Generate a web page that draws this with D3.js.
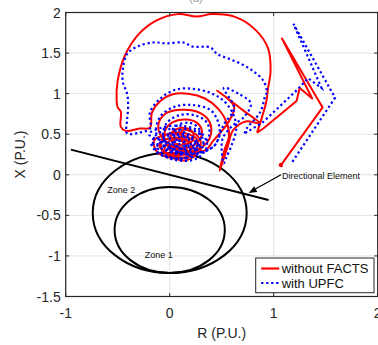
<!DOCTYPE html>
<html><head><meta charset="utf-8">
<script src="https://cdnjs.cloudflare.com/ajax/libs/d3/7.8.5/d3.min.js"></script>
<style>
body{margin:0;background:#fff;}
svg{display:block;font-family:"Liberation Sans",Arial,sans-serif;}
</style></head>
<body>
<svg id="c" width="378" height="345"></svg>
<script>
// ---------- data ----------
const xTicks = [-1, 0, 1, 2];
const yTicks = [-1.5, -1, -0.5, 0, 0.5, 1, 1.5, 2];
const seriesNames = ["without FACTS", "with UPFC"];

// red: without FACTS (R, X) in p.u.
const redTail = [[1.07,0.12],[1.47,0.83],[1.08,1.68],[1.37,0.94],[1.25,1.07],[1.22,0.91],[0.90,0.57],[0.84,0.52]];
const redSwing = [[0.84,0.52],[0.89,0.72],[0.93,0.91],[0.945,1.06],[0.97,1.28],[0.945,1.56],[0.83,1.78],[0.64,1.94],
  [0.41,1.98],[0.26,1.95],[0.08,1.98],[-0.13,1.90],[-0.30,1.73],[-0.43,1.47],[-0.50,1.16],[-0.51,0.91],[-0.50,0.83],
  [-0.47,0.78],[-0.47,0.59],[-0.42,0.54],[-0.29,0.57],[-0.19,0.58],
  [-0.17,0.77],[-0.09,0.91],[0.02,0.99],[0.18,1.0],[0.34,0.94],[0.47,0.81],[0.55,0.64],[0.57,0.47],[0.53,0.32],
  [0.50,0.17],[0.48,0.05],[0.52,0.20],[0.56,0.36],[0.61,0.55],[0.74,0.66],[0.87,0.63],
  [0.70,0.80],[0.455,1.04],[0.62,0.84],[0.56,0.64],[0.42,0.42],
  [0.34,0.30],[0.15,0.30],[-0.045,0.42],[-0.11,0.60],[-0.045,0.75],[0.10,0.80],[0.26,0.78],[0.37,0.68],[0.40,0.54],
  [0.36,0.40],[0.24,0.30],[0.08,0.30],[-0.035,0.40],[-0.045,0.54],[0.03,0.65],[0.17,0.68],[0.28,0.62],[0.31,0.51],
  [0.25,0.38],[0.13,0.33],[0.02,0.41],[0.02,0.52],[0.12,0.58],[0.22,0.53],[0.22,0.42],[0.13,0.37]];
const redCluster = [[0.13,0.37],[0.12,0.55],[0.25,0.50],[0.30,0.38],[0.22,0.24],[0.05,0.22],[-0.08,0.32],[-0.05,0.48],
  [0.10,0.52],[0.26,0.44],[0.24,0.28],[0.08,0.20],[-0.12,0.28],[-0.15,0.42],[0.0,0.50],[0.18,0.46],[0.30,0.32],
  [0.16,0.18],[-0.02,0.24],[-0.10,0.38],[0.04,0.46],[0.20,0.40],[0.18,0.26],[0.02,0.28],[-0.02,0.40],[0.12,0.44],
  [0.22,0.34],[0.10,0.24],[-0.05,0.30],[0.0,0.42],[0.14,0.40],[0.16,0.30],[0.06,0.30],[0.06,0.38],[0.12,0.36]];

// blue: with UPFC
const blueTail = [[1.18,0.16],[1.59,0.95],[1.19,1.86],[1.46,1.07],[1.33,1.19],[1.22,1.04],[0.89,0.64],[0.72,0.51]];
const blueSwing = [[0.72,0.51],[0.74,0.57],[0.87,0.77],[0.92,0.98],[0.935,1.02],[0.90,1.16],[0.80,1.28],[0.68,1.37],
  [0.55,1.44],[0.455,1.49],[0.39,1.57],[0.22,1.58],[0.13,1.63],[-0.03,1.62],[-0.16,1.63],[-0.31,1.58],[-0.41,1.49],
  [-0.45,1.31],[-0.45,1.14],[-0.41,1.0],[-0.40,0.83],[-0.41,0.67],[-0.41,0.51],[-0.29,0.52],[-0.19,0.57],
  [-0.19,0.77],[-0.09,0.94],[0.06,1.05],[0.22,1.06],[0.39,1.01],[0.52,0.91],[0.61,0.75],[0.64,0.57],[0.60,0.38],
  [0.54,0.20],[0.52,0.14],[0.50,0.30],[0.51,0.45],[0.60,0.60],[0.72,0.72],[0.78,0.88],[0.66,1.0],[0.52,1.07],
  [0.62,0.82],[0.52,0.62],[0.43,0.36],
  [0.29,0.27],[0.10,0.26],[-0.06,0.35],[-0.13,0.52],[-0.09,0.72],[0.05,0.84],[0.22,0.86],[0.39,0.80],[0.46,0.67],
  [0.48,0.51],[0.43,0.36],[0.29,0.27],[0.12,0.27],[-0.02,0.36],[-0.065,0.51],[-0.02,0.65],[0.11,0.74],[0.25,0.73],
  [0.36,0.64],[0.38,0.49],[0.31,0.36],[0.18,0.31],[0.05,0.36],[0.0,0.48],[0.06,0.60],[0.19,0.64],[0.28,0.57],
  [0.29,0.43],[0.21,0.35],[0.10,0.37]];
const blueCluster = [[0.10,0.37],[0.04,0.52],[0.20,0.56],[0.32,0.44],[0.28,0.26],[0.10,0.20],[-0.10,0.26],[-0.16,0.44],
  [-0.02,0.56],[0.18,0.50],[0.28,0.36],[0.18,0.22],[0.0,0.22],[-0.12,0.34],[-0.06,0.48],[0.12,0.48],[0.24,0.40],
  [0.20,0.28],[0.04,0.26],[-0.06,0.38],[0.04,0.46],[0.18,0.44],[0.20,0.32],[0.08,0.28],[0.0,0.36],[0.08,0.42],
  [0.16,0.38],[0.12,0.32],[0.06,0.36],[-0.20,0.50],[-0.08,0.58],[0.14,0.60],[0.30,0.52],[0.36,0.36],[0.26,0.20],
  [0.06,0.18],[-0.14,0.30],[-0.18,0.40],[-0.04,0.30],[0.14,0.26],[0.26,0.32],[0.22,0.46],[0.06,0.50],[-0.08,0.42],
  [0.02,0.32],[0.18,0.36],[0.12,0.42],[0.04,0.40]];

// relay characteristics
const zoneNames = ["Zone 2", "Zone 1"];
const zoneCenterR = [0, 0];
const zoneCenterX = [-0.47, -0.68];
const zoneRadius = [0.74, 0.53];
const dirLine = [[-0.95, 0.31], [0.95, -0.31]];

// ---------- layout ----------
const W = 378, H = 345;
const m = {l: 65.7, t: 12.5, r: 0.3, b: 48.5};
const pw = W - m.l - m.r, ph = H - m.t - m.b;
const svg = d3.select("#c");
const x = d3.scaleLinear().domain([-1, 2]).range([m.l, m.l + pw]);
const y = d3.scaleLinear().domain([-1.5, 2]).range([m.t + ph, m.t]);
const axisCol = "#262626";

// title remnant (cut off at the top edge, as in the reference)
svg.append("text").attr("x", 196).attr("y", 2).attr("text-anchor", "middle")
  .attr("font-size", 11).attr("fill", "#999").text("(a)");

svg.append("defs").append("clipPath").attr("id", "clip")
  .append("rect").attr("x", m.l).attr("y", m.t).attr("width", pw).attr("height", ph);

// grid
const g = svg.append("g");
g.selectAll(".gx").data(xTicks).join("line")
  .attr("x1", d => x(d)).attr("x2", d => x(d)).attr("y1", m.t).attr("y2", m.t + ph)
  .attr("stroke", "#e3e3e3").attr("stroke-width", 1);
g.selectAll(".gy").data(yTicks).join("line")
  .attr("y1", d => y(d)).attr("y2", d => y(d)).attr("x1", m.l).attr("x2", m.l + pw)
  .attr("stroke", "#e3e3e3").attr("stroke-width", 1);

const plot = svg.append("g").attr("clip-path", "url(#clip)");

// zones
plot.selectAll(".zone").data(zoneNames).join("ellipse")
  .attr("cx", (d, i) => x(zoneCenterR[i])).attr("cy", (d, i) => y(zoneCenterX[i]))
  .attr("rx", (d, i) => x(zoneRadius[i]) - x(0)).attr("ry", (d, i) => y(0) - y(zoneRadius[i]))
  .attr("fill", "none").attr("stroke", "#000").attr("stroke-width", 2);
plot.append("path").attr("d", d3.line().x(d => x(d[0])).y(d => y(d[1]))(dirLine))
  .attr("fill", "none").attr("stroke", "#000").attr("stroke-width", 2);

// trajectories
const lin = d3.line().x(d => x(d[0])).y(d => y(d[1]));
const smooth = d3.line().x(d => x(d[0])).y(d => y(d[1])).curve(d3.curveCatmullRom.alpha(0.5));
const red = "#ff0000", blue = "#0000ff";
const blueDash = "2.2,2.8";

plot.append("path").attr("d", smooth(redSwing)).attr("fill", "none").attr("stroke", red)
  .attr("stroke-width", 2).attr("stroke-linejoin", "round");
plot.append("path").attr("d", smooth(redCluster)).attr("fill", "none").attr("stroke", red)
  .attr("stroke-width", 2).attr("stroke-linejoin", "round");
plot.append("path").attr("d", lin(redTail)).attr("fill", "none").attr("stroke", red)
  .attr("stroke-width", 2).attr("stroke-linejoin", "round");
plot.append("circle").attr("cx", x(redTail[0][0])).attr("cy", y(redTail[0][1])).attr("r", 2.2).attr("fill", red);

plot.append("path").attr("d", smooth(blueSwing)).attr("fill", "none").attr("stroke", blue)
  .attr("stroke-width", 2.2).attr("stroke-dasharray", blueDash);
plot.append("path").attr("d", smooth(blueCluster)).attr("fill", "none").attr("stroke", blue)
  .attr("stroke-width", 2.2).attr("stroke-dasharray", blueDash);
plot.append("path").attr("d", lin(blueTail)).attr("fill", "none").attr("stroke", blue)
  .attr("stroke-width", 2.2).attr("stroke-dasharray", blueDash);

// annotations
const ann = svg.append("g").attr("font-size", 9).attr("fill", "#111");
ann.append("text").attr("x", x(1.08)).attr("y", y(-0.05)).text("Directional Element");
ann.append("text").attr("x", x(-0.60)).attr("y", y(-0.22)).text(zoneNames[0]);
ann.append("text").attr("x", x(-0.24)).attr("y", y(-1.02)).text(zoneNames[1]);
const a0 = [x(1.07), y(0.0)], a1 = [x(0.76), y(-0.225)];
svg.append("line").attr("x1", a0[0]).attr("y1", a0[1]).attr("x2", a1[0] + 4).attr("y2", a1[1] - 2.5)
  .attr("stroke", "#000").attr("stroke-width", 1.3);
{
  const ang = Math.atan2(a1[1] - a0[1], a1[0] - a0[0]);
  const L = 8, Wd = 3.2;
  const bx = a1[0] - L * Math.cos(ang), by = a1[1] - L * Math.sin(ang);
  const px = -Math.sin(ang) * Wd, py = Math.cos(ang) * Wd;
  svg.append("path").attr("d", `M${a1[0]},${a1[1]}L${bx + px},${by + py}L${bx - px},${by - py}Z`).attr("fill", "#000");
}

// axes (box)
const ax = svg.append("g").attr("stroke", axisCol).attr("fill", "none");
ax.append("rect").attr("x", m.l).attr("y", m.t).attr("width", pw).attr("height", ph).attr("stroke-width", 1.2);
const tl = 3.5;
xTicks.forEach(t => {
  ax.append("line").attr("x1", x(t)).attr("x2", x(t)).attr("y1", m.t + ph).attr("y2", m.t + ph - tl);
  ax.append("line").attr("x1", x(t)).attr("x2", x(t)).attr("y1", m.t).attr("y2", m.t + tl);
});
yTicks.forEach(t => {
  ax.append("line").attr("x1", m.l).attr("x2", m.l + tl).attr("y1", y(t)).attr("y2", y(t));
  ax.append("line").attr("x1", m.l + pw).attr("x2", m.l + pw - tl).attr("y1", y(t)).attr("y2", y(t));
});
const fmt = d => (d < 0 ? "-" : "") + Math.abs(d);
svg.append("g").selectAll("text").data(xTicks).join("text")
  .attr("x", d => x(d)).attr("y", m.t + ph + 21).attr("text-anchor", "middle")
  .attr("font-size", 14).attr("fill", axisCol).text(fmt);
svg.append("g").selectAll("text").data(yTicks).join("text")
  .attr("x", m.l - 5).attr("y", d => y(d) + 5).attr("text-anchor", "end")
  .attr("font-size", 14).attr("fill", axisCol).text(fmt);
svg.append("text").attr("x", x(0.5)).attr("y", 338).attr("text-anchor", "middle")
  .attr("font-size", 14).attr("fill", axisCol).text("R (P.U.)");
svg.append("text").attr("transform", `translate(25,${m.t + ph / 2}) rotate(-90)`).attr("text-anchor", "middle")
  .attr("font-size", 14).attr("fill", axisCol).text("X (P.U.)");

// legend
const lg = svg.append("g").attr("transform", "translate(255.7,258)");
lg.append("rect").attr("width", 118.3).attr("height", 34.7).attr("fill", "#fff").attr("stroke", axisCol).attr("stroke-width", 1);
const lgY = [10.5, 25];
seriesNames.forEach((n, i) => {
  const ln = lg.append("line").attr("x1", 5.5).attr("x2", 23.5).attr("y1", lgY[i]).attr("y2", lgY[i])
    .attr("stroke", i ? blue : red).attr("stroke-width", 2.2);
  if (i) ln.attr("stroke-dasharray", blueDash);
  lg.append("text").attr("x", 26).attr("y", lgY[i] + 4.5).attr("font-size", 13).attr("fill", "#111").text(n);
});
</script>
</body></html>
